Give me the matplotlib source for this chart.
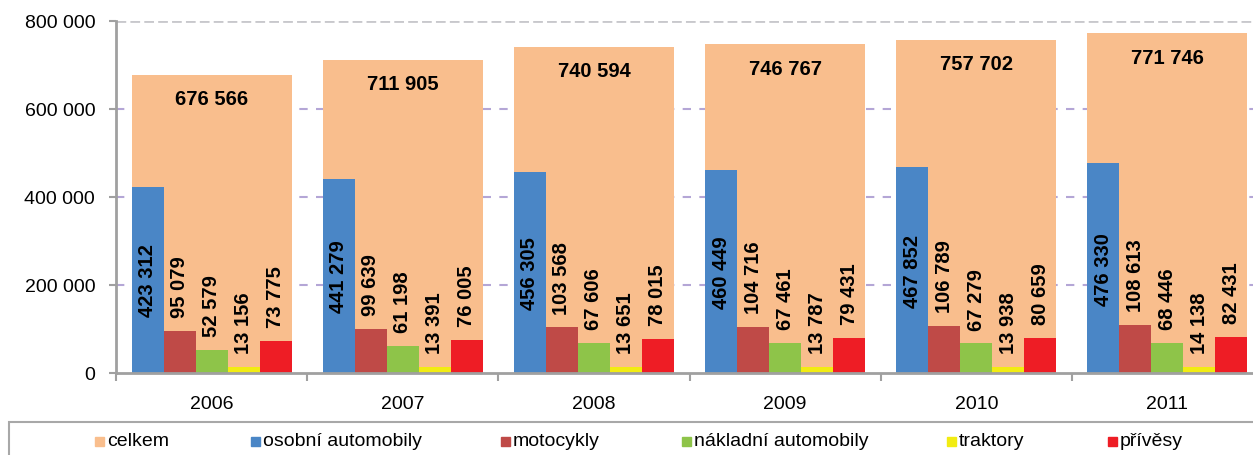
import matplotlib
matplotlib.use('Agg')
import matplotlib.pyplot as plt
from matplotlib.patches import Rectangle
import numpy as np

plt.rcParams['font.family'] = ['Liberation Sans', 'DejaVu Sans']

years = ['2006', '2007', '2008', '2009', '2010', '2011']
celkem = [676566, 711905, 740594, 746767, 757702, 771746]
osobni = [423312, 441279, 456305, 460449, 467852, 476330]
motocykly = [95079, 99639, 103568, 104716, 106789, 108613]
nakladni = [52579, 61198, 67606, 67461, 67279, 68446]
traktory = [13156, 13391, 13651, 13787, 13938, 14138]
privesy = [73775, 76005, 78015, 79431, 80659, 82431]

labels = ['celkem', 'osobní automobily', 'motocykly', 'nákladní automobily', 'traktory', 'přívěsy']
colors = ['#F9BE8D', '#4A86C6', '#BF4A47', '#8EC449', '#F2EC12', '#EE1D25']

def fmt(v):
    return '{:,}'.format(v).replace(',', ' ')

W, H = 1253, 456
fig = plt.figure(figsize=(W / 100, H / 100), dpi=100)
ax = fig.add_axes([116 / W, (H - 374) / H, (1263 - 116) / W, (374 - 22) / H])

x = np.arange(len(years))
wide = 0.837
narrow = wide / 5
vfs = 14.5

# background total bars
ax.bar(x, celkem, width=wide, color=colors[0], zorder=1)
for xi, v in zip(x, celkem):
    ax.annotate(fmt(v), (xi, v), xytext=(0, -17), textcoords='offset points',
                ha='center', va='center', fontsize=vfs, fontweight='bold', zorder=5)

series = [osobni, motocykly, nakladni, traktory, privesy]
for i, s in enumerate(series):
    xs = x - wide / 2 + narrow * (i + 0.5)
    ax.bar(xs, s, width=narrow, color=colors[i + 1], zorder=2)
    for xi, v in zip(xs, s):
        if i == 0:
            ax.text(xi, v / 2, fmt(v), rotation=90, ha='center', va='center',
                    fontsize=vfs, fontweight='bold', zorder=5)
        else:
            ax.annotate(fmt(v), (xi, v), xytext=(0, 10), textcoords='offset points',
                        rotation=90, ha='center', va='bottom', fontsize=vfs,
                        fontweight='bold', zorder=5)

# gridlines
for g in [200000, 400000, 600000]:
    ax.axhline(g, color='#B4A6D6', lw=1.5, ls=(0, (4, 4)), zorder=0)
ax.axhline(800000, color='#C8C8CC', lw=2, ls=(0, (3.5, 1.5)), zorder=0)

ax.set_xlim(-0.5, 5.5)
ax.set_ylim(0, 800000)
ax.set_yticks([0, 200000, 400000, 600000, 800000])
ax.set_yticklabels([fmt(v) for v in [0, 200000, 400000, 600000, 800000]], fontsize=14)
ax.set_xticks(x)
ax.set_xticklabels(years, fontsize=14)
ax.set_xticks(np.arange(-0.5, 6, 1), minor=True)
ax.tick_params(axis='x', which='major', length=0, pad=16)
ax.tick_params(axis='x', which='minor', length=6, width=1.5, color='#A0A0A0')
ax.tick_params(axis='y', length=5, width=1.5, color='#A0A0A0', pad=10)

for sp in ['top', 'right']:
    ax.spines[sp].set_visible(False)
for sp in ['left', 'bottom']:
    ax.spines[sp].set_color('#A0A0A0')
    ax.spines[sp].set_linewidth(2)
ax.spines['bottom'].set_zorder(3)

# legend box (drawn by hand to match spacing)
fig.patches.append(Rectangle((9 / W, -0.1), 1.2, (H - 423) / H + 0.1,
                             transform=fig.transFigure, fill=False,
                             edgecolor='#A8A8A8', lw=1.5))
leg_x = [95, 251, 501, 682, 947, 1108]
ly = (H - 442) / H
for lx, lab, c in zip(leg_x, labels, colors):
    fig.patches.append(Rectangle((lx / W, ly - 4.5 / H), 9 / W, 9 / H,
                                 transform=fig.transFigure, color=c))
    fig.text((lx + 12) / W, ly, lab, ha='left', va='center', fontsize=14)

fig.savefig('out.png', dpi=100)
